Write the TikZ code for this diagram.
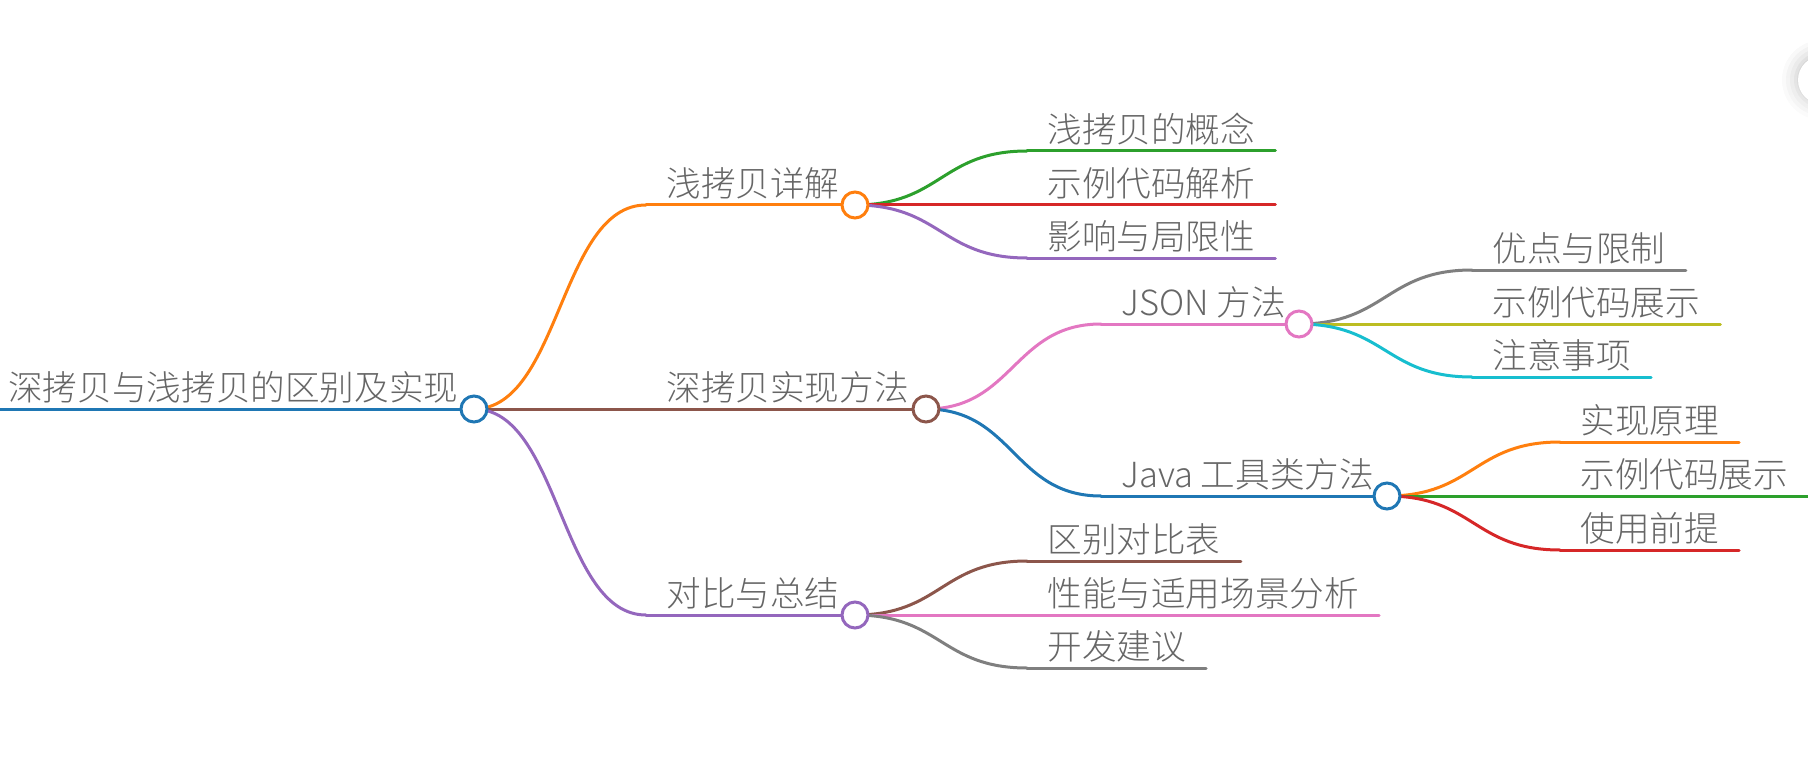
\documentclass[tikz,border=0pt]{standalone}
\usepackage{fontspec}
\setmainfont{Noto Sans CJK SC}[UprightFont=* Light]
\usetikzlibrary{calc}
\definecolor{c0}{HTML}{1F77B4}
\definecolor{c1}{HTML}{FF7F0E}
\definecolor{c2}{HTML}{2CA02C}
\definecolor{c3}{HTML}{D62728}
\definecolor{c4}{HTML}{9467BD}
\definecolor{c5}{HTML}{8C564B}
\definecolor{c6}{HTML}{E377C2}
\definecolor{c7}{HTML}{7F7F7F}
\definecolor{c8}{HTML}{BCBD22}
\definecolor{c9}{HTML}{17BECF}
\definecolor{txt}{HTML}{666666}
\definecolor{shade}{HTML}{8890C8}
\newcommand\mmlink[3]{%
  \path ($(#2)!0.5!(#3)$) coordinate (mid);
  \draw[edge=#1] (#2) .. controls (mid |- #2) and (mid |- #3) .. (#3);}
\begin{document}
\begin{tikzpicture}[x=0.5pt,y=-0.5pt,
  lbl/.style={anchor=south west, inner xsep=10pt, inner ysep=4pt, text depth=0pt,
    font=\fontsize{17.3pt}{20pt}\selectfont, text=txt},
  dot/.style={circle, draw=#1, fill=white, line width=1.5pt, minimum size=13pt, inner sep=0pt},
  edge/.style={draw=#1, line width=1.5pt, line cap=round},
]
\useasboundingbox (0,0) rectangle (1808,770);
% faint corner button
\foreach \r/\o in {40/0.015,36/0.02,32/0.025,28/0.03,25/0.035}{
  \fill[shade, opacity=\o] (1822,80) circle[radius=\r];}
\fill[white] (1822,80) circle[radius=24];

% circle centres
\coordinate (Rc) at (474,409);
\coordinate (Ac) at (855,205);
\coordinate (Bc) at (926,409);
\coordinate (Jc) at (1299,324);
\coordinate (Vc) at (1387,496);
\coordinate (Cc) at (855,615);
\coordinate (r0) at (0,409);

% labels
\node[lbl] (R) at (-12,409) {深拷贝与浅拷贝的区别及实现};
\node[lbl] (A) at (646,205) {浅拷贝详解};
\node[lbl] (A1) at (1027,151) {浅拷贝的概念};
\node[lbl] (A2) at (1027,205) {示例代码解析};
\node[lbl] (A3) at (1027,258) {影响与局限性};
\node[lbl] (B) at (646,409) {深拷贝实现方法};
\node[lbl] (J) at (1101,324) {JSON 方法};
\node[lbl] (J1) at (1472,270) {优点与限制};
\node[lbl] (J2) at (1472,324) {示例代码展示};
\node[lbl] (J3) at (1472,377) {注意事项};
\node[lbl] (V) at (1101,496) {Java 工具类方法};
\node[lbl] (V1) at (1560,442) {实现原理};
\node[lbl] (V2) at (1560,496) {示例代码展示};
\node[lbl] (V3) at (1560,550) {使用前提};
\node[lbl] (C) at (646,615) {对比与总结};
\node[lbl] (C1) at (1027,561) {区别对比表};
\node[lbl] (C2) at (1027,615) {性能与适用场景分析};
\node[lbl] (C3) at (1027,668) {开发建议};

% root line
\draw[edge=c0] (r0) -- (Rc);
% level 1
\mmlink{c1}{Rc}{A.south west}
\draw[edge=c1] (A.south west) -- (Ac);
\mmlink{c5}{Rc}{B.south west}
\draw[edge=c5] (B.south west) -- (Bc);
\mmlink{c4}{Rc}{C.south west}
\draw[edge=c4] (C.south west) -- (Cc);
% A children
\mmlink{c2}{Ac}{A1.south west}
\draw[edge=c2] (A1.south west) -- (A1.south east);
\mmlink{c3}{Ac}{A2.south west}
\draw[edge=c3] (A2.south west) -- (A2.south east);
\mmlink{c4}{Ac}{A3.south west}
\draw[edge=c4] (A3.south west) -- (A3.south east);
% B children
\mmlink{c6}{Bc}{J.south west}
\draw[edge=c6] (J.south west) -- (Jc);
\mmlink{c0}{Bc}{V.south west}
\draw[edge=c0] (V.south west) -- (Vc);
% JSON children
\mmlink{c7}{Jc}{J1.south west}
\draw[edge=c7] (J1.south west) -- (J1.south east);
\mmlink{c8}{Jc}{J2.south west}
\draw[edge=c8] (J2.south west) -- (J2.south east);
\mmlink{c9}{Jc}{J3.south west}
\draw[edge=c9] (J3.south west) -- (J3.south east);
% Java children
\mmlink{c1}{Vc}{V1.south west}
\draw[edge=c1] (V1.south west) -- (V1.south east);
\mmlink{c2}{Vc}{V2.south west}
\draw[edge=c2] (V2.south west) -- (V2.south east);
\mmlink{c3}{Vc}{V3.south west}
\draw[edge=c3] (V3.south west) -- (V3.south east);
% C children
\mmlink{c5}{Cc}{C1.south west}
\draw[edge=c5] (C1.south west) -- (C1.south east);
\mmlink{c6}{Cc}{C2.south west}
\draw[edge=c6] (C2.south west) -- (C2.south east);
\mmlink{c7}{Cc}{C3.south west}
\draw[edge=c7] (C3.south west) -- (C3.south east);

% circles
\node[dot=c0] (Rdot) at (Rc) {};
\node[dot=c1] (Adot) at (Ac) {};
\node[dot=c5] (Bdot) at (Bc) {};
\node[dot=c6] (Jdot) at (Jc) {};
\node[dot=c0] (Vdot) at (Vc) {};
\node[dot=c4] (Cdot) at (Cc) {};
\end{tikzpicture}
\end{document}
